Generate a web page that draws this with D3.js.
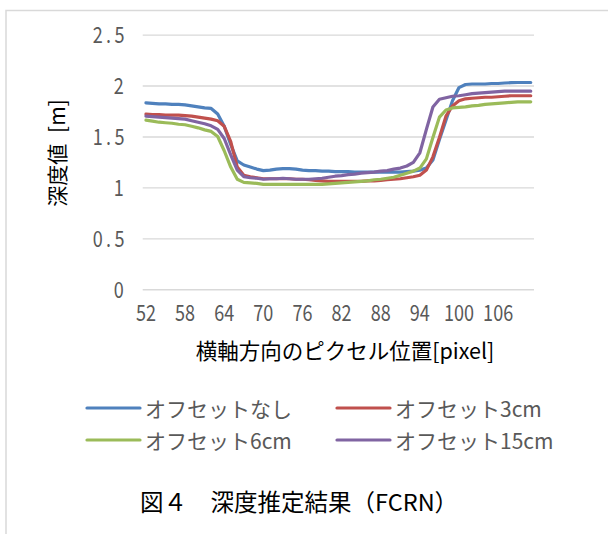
<!DOCTYPE html>
<html>
<head>
<meta charset="utf-8">
<script src="https://cdn.jsdelivr.net/npm/d3@7"></script>
<style>
  html, body { margin: 0; padding: 0; background: #fff; }
  svg { display: block; }
</style>
</head>
<body>
<svg id="chart" width="608" height="534"></svg>
<script>
// ---- data ----
const categories = d3.range(52, 112); // 52..111
const seriesNames = ["オフセットなし", "オフセット3cm", "オフセット6cm", "オフセット15cm"];
const seriesColors = ["#4F81BD", "#C0504D", "#9BBB59", "#8064A2"];

const offsetNone = [1.83,1.825,1.82,1.82,1.815,1.815,1.81,1.80,1.79,1.78,1.775,1.72,1.60,1.42,1.26,1.22,1.20,1.18,1.165,1.17,1.18,1.185,1.185,1.18,1.17,1.165,1.165,1.16,1.16,1.155,1.155,1.155,1.15,1.15,1.15,1.15,1.15,1.15,1.15,1.15,1.155,1.16,1.17,1.19,1.27,1.47,1.66,1.85,1.98,2.01,2.015,2.015,2.015,2.02,2.02,2.025,2.028,2.03,2.03,2.03];
const offset3 = [1.72,1.715,1.715,1.71,1.71,1.71,1.705,1.70,1.69,1.68,1.67,1.655,1.60,1.45,1.20,1.12,1.105,1.095,1.085,1.085,1.085,1.085,1.085,1.08,1.08,1.075,1.07,1.065,1.06,1.06,1.06,1.06,1.06,1.06,1.065,1.065,1.07,1.075,1.08,1.085,1.095,1.105,1.12,1.17,1.30,1.49,1.70,1.80,1.85,1.87,1.875,1.88,1.885,1.885,1.89,1.895,1.90,1.90,1.90,1.90];
const offset6 = [1.66,1.65,1.64,1.635,1.63,1.62,1.615,1.60,1.585,1.565,1.55,1.50,1.36,1.20,1.08,1.05,1.045,1.04,1.03,1.03,1.03,1.03,1.03,1.03,1.03,1.03,1.03,1.03,1.035,1.04,1.045,1.05,1.055,1.06,1.065,1.075,1.08,1.09,1.10,1.12,1.14,1.16,1.19,1.28,1.49,1.69,1.76,1.78,1.785,1.79,1.80,1.805,1.815,1.82,1.825,1.83,1.835,1.84,1.84,1.84];
const offset15 = [1.70,1.695,1.69,1.685,1.68,1.675,1.67,1.655,1.64,1.625,1.605,1.57,1.48,1.32,1.17,1.105,1.095,1.09,1.08,1.085,1.085,1.09,1.085,1.08,1.08,1.08,1.085,1.09,1.10,1.11,1.115,1.125,1.13,1.14,1.145,1.15,1.16,1.165,1.18,1.19,1.21,1.245,1.34,1.57,1.79,1.865,1.88,1.895,1.90,1.91,1.92,1.925,1.93,1.935,1.94,1.945,1.945,1.945,1.945,1.945];

const xTickLabels = [52, 58, 64, 70, 76, 82, 88, 94, 100, 106];
const yTicks = [0, 0.5, 1, 1.5, 2, 2.5];
const xTitle = "横軸方向のピクセル位置[pixel]";
const yTitle = "深度値 [m]";
const caption = "図４　深度推定結果（FCRN）";

const seriesValues = [offsetNone, offset3, offset6, offset15];

// ---- drawing ----
const svg = d3.select("#chart");
const tickFont = "'Noto Sans CJK JP', sans-serif";
const jpFont = "'Noto Sans CJK JP', sans-serif";
const sx = 0.82; // horizontal condensing of tick digits

// chart frame
svg.append("path")
  .attr("d", "M6,600 L6,10.5 L620,10.5")
  .attr("fill", "none")
  .attr("stroke", "#d9d9d9")
  .attr("stroke-width", 1.5);

const plotLeft = 142.7, plotRight = 534, plotTop = 34.6, plotBottom = 289.3;

const x = d3.scaleBand().domain(categories).range([plotLeft, plotRight]).padding(0);
const y = d3.scaleLinear().domain([0, 2.5]).range([plotBottom, plotTop]);
const cx = c => x(c) + x.bandwidth() / 2;

// gridlines + y labels
const yAxis = d3.axisLeft(y).tickValues(yTicks).tickSize(-(plotRight - plotLeft)).tickPadding(19).tickFormat(d => String(d));
const gy = svg.append("g").attr("transform", `translate(${plotLeft},0)`).call(yAxis);
gy.select(".domain").remove();
gy.selectAll(".tick line").attr("stroke", "#d9d9d9").attr("stroke-width", 1.4);
gy.selectAll(".tick text")
  .attr("fill", "#595959")
  .style("font-family", tickFont)
  .style("font-size", "22px")
  .attr("dy", "0.36em")
  .attr("x", d => (d % 1 !== 0 ? -19 + 4 : -19) / sx)
  .style("letter-spacing", d => d % 1 !== 0 ? "4px" : "0px")
  .attr("transform", `scale(${sx},1)`);

// x labels
const xAxis = d3.axisBottom(x).tickValues(xTickLabels).tickSize(0).tickPadding(0);
const gx = svg.append("g").attr("transform", `translate(0,${plotBottom})`).call(xAxis);
gx.select(".domain").remove();
gx.selectAll(".tick text")
  .attr("fill", "#595959")
  .style("font-family", tickFont)
  .style("font-size", "22px")
  .attr("y", 24)
  .attr("dy", "0.36em")
  .attr("transform", `scale(${sx},1)`);

// lines
const line = d3.line().x((d, i) => cx(categories[i])).y(d => y(d));
seriesValues.forEach((vals, k) => {
  svg.append("path")
    .datum(vals)
    .attr("d", line)
    .attr("fill", "none")
    .attr("stroke", seriesColors[k])
    .attr("stroke-width", 3.2)
    .attr("stroke-linejoin", "round")
    .attr("stroke-linecap", "round");
});

// axis titles
svg.append("text")
  .attr("x", 345).attr("y", 349)
  .attr("text-anchor", "middle")
  .attr("dominant-baseline", "central")
  .style("font-family", jpFont)
  .style("font-size", "21.5px")
  .attr("fill", "#000")
  .text(xTitle);

svg.append("text")
  .attr("transform", "translate(56,153) rotate(-90)")
  .attr("text-anchor", "middle")
  .attr("dominant-baseline", "central")
  .style("font-family", jpFont)
  .style("font-size", "21px")
  .style("word-spacing", "6px")
  .attr("fill", "#000")
  .text(yTitle);

// legend
const legendPos = [[87, 408], [337, 408], [87, 440], [337, 440]];
seriesNames.forEach((name, k) => {
  const [lx, ly] = legendPos[k];
  svg.append("line")
    .attr("x1", lx).attr("x2", lx + 53)
    .attr("y1", ly).attr("y2", ly)
    .attr("stroke", seriesColors[k])
    .attr("stroke-width", 3.2)
    .attr("stroke-linecap", "round");
  svg.append("text")
    .attr("x", lx + 58).attr("y", ly)
    .attr("dominant-baseline", "central")
    .style("font-family", jpFont)
    .style("font-size", "21px")
    .attr("fill", "#595959")
    .text(name);
});

// caption
svg.append("text")
  .attr("x", 140).attr("y", 501)
  .attr("dominant-baseline", "central")
  .style("font-family", jpFont)
  .style("font-size", "23.5px")
  .attr("fill", "#000")
  .text(caption);
</script>
</body>
</html>
